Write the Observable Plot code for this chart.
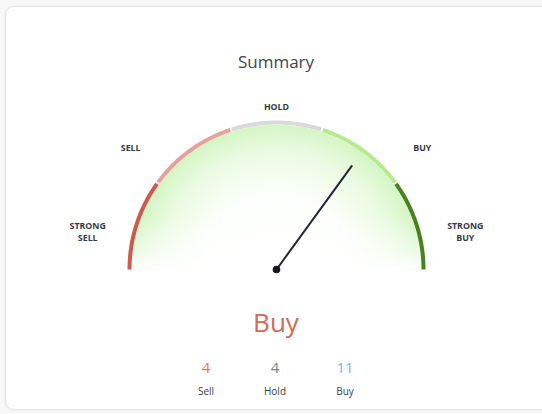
<!DOCTYPE html>
<html><head><meta charset="utf-8">
<script src="https://cdn.jsdelivr.net/npm/d3@7"></script>
<script src="https://cdn.jsdelivr.net/npm/@observablehq/plot@0.6"></script>
<style>
html,body{margin:0;padding:0;width:542px;height:414px;overflow:hidden;background:#f8f8f8;font-family:"Open Sans",sans-serif}
#card{position:absolute;left:5px;top:6px;width:600px;height:402px;background:#fff;border:1px solid #e4e4e4;border-radius:9px;box-shadow:0 0 3px rgba(0,0,0,0.07)}
#title{position:absolute;left:0;top:50px;width:552px;text-align:center;font-size:17px;color:#3f4650}
#gauge{position:absolute;left:0;top:80px}
#verdict{position:absolute;left:0;top:304px;width:552px;text-align:center;font-size:26px;color:#d26a5a}
.num{position:absolute;width:80px;text-align:center;font-size:15px;top:357px}
.lab{position:absolute;width:80px;text-align:center;font-size:10px;top:384px;color:#3a3f46}
</style>
</head><body>
<div id="card"></div>
<div id="title"></div>
<div id="gauge"></div>
<div id="verdict"></div>
<div id="counts"></div>
<script>
// ---- data ----
const title = "Summary";
const segments = ["STRONG\nSELL", "SELL", "HOLD", "BUY", "STRONG\nBUY"];
const score = 0.40;            // needle value on a -1 (strong sell) .. 1 (strong buy) scale
const verdict = "Buy";
const countLabels = ["Sell", "Hold", "Buy"];
const counts = [4, 4, 11];

// ---- styles / layout ----
const segColors = ["#cd5a4c", "#e6a29a", "#d9d9d9", "#b6ea8e", "#45841d"];
const countColors = ["#d9776a", "#7d7f84", "#7ab4e4"];
const countX = [206, 275, 345];
const labelAngles = [168.6, 140, 90, 40, 11.4];
const labelRadii = [1.31, 1.295, 1.11, 1.295, 1.31];

document.getElementById("title").textContent = title;
document.getElementById("verdict").textContent = verdict;
const cdiv = document.getElementById("counts");
counts.forEach((c, i) => {
  const n = document.createElement("div");
  n.className = "num"; n.style.left = (countX[i] - 40) + "px"; n.style.color = countColors[i];
  n.textContent = c; cdiv.appendChild(n);
  const l = document.createElement("div");
  l.className = "lab"; l.style.left = (countX[i] - 40) + "px";
  l.textContent = countLabels[i]; cdiv.appendChild(l);
});

// geometry helpers
const W = 542, H = 220, R = 147, CX = 276, CY = 189;
const toAngle = s => (90 - s * 90) * Math.PI / 180;
const n = segments.length;
const arcPts = [];
segments.forEach((s, i) => {
  const s0 = -1 + 2 * i / n, s1 = -1 + 2 * (i + 1) / n;
  const a0 = toAngle(s0) - (i === 0 ? 0 : 0.006), a1 = toAngle(s1) + (i === n - 1 ? 0 : 0.006);
  for (let k = 0; k <= 40; k++) {
    const a = a0 + (a1 - a0) * k / 40;
    arcPts.push({seg: i, x: Math.cos(a), y: Math.sin(a)});
  }
});
const fillPts = d3.range(0, 181).map(d => ({x: 0.985 * Math.cos(d * Math.PI / 180), y: 0.985 * Math.sin(d * Math.PI / 180)}));
const labels = segments.map((s, i) => ({
  text: s,
  x: labelRadii[i] * Math.cos(labelAngles[i] * Math.PI / 180),
  y: labelRadii[i] * Math.sin(labelAngles[i] * Math.PI / 180)
}));
const na = toAngle(score), nl = 0.876;
const needle = [{x1: 0, y1: 0, x2: nl * Math.cos(na), y2: nl * Math.sin(na)}];

const svg = Plot.plot({
  width: W, height: H, margin: 0, axis: null,
  style: {background: "transparent", overflow: "visible"},
  x: {domain: [-CX / R, (W - CX) / R], range: [0, W]},
  y: {domain: [-(H - CY) / R, CY / R], range: [H, 0]},
  marks: [
    Plot.line(fillPts, {x: "x", y: "y", fill: "url(#gfill)", stroke: "none"}),
    Plot.line(fillPts, {x: "x", y: "y", fill: "url(#gfade)", stroke: "none"}),
    Plot.line(arcPts, {x: "x", y: "y", z: "seg", stroke: d => segColors[d.seg], strokeWidth: 4, strokeLinecap: "butt"}),
    Plot.text(labels, {x: "x", y: "y", text: "text", fontSize: 8.8, fontWeight: "bold", fill: "#363b43", lineHeight: 1.35, fontFamily: "Open Sans"}),
    Plot.link(needle, {x1: "x1", y1: "y1", x2: "x2", y2: "y2", stroke: "#23262b", strokeWidth: 2}),
    Plot.dot([{x: 0, y: 0}], {x: "x", y: "y", r: 3.8, fill: "#15171c", stroke: "none"})
  ]
});
const defs = d3.select(svg).insert("defs", ":first-child");
const g = defs.append("radialGradient").attr("id", "gfill").attr("gradientUnits", "userSpaceOnUse")
  .attr("cx", CX).attr("cy", CY).attr("r", R);
[[0, "#ffffff"], [0.5, "#fdfffc"], [0.8, "#ebfbe3"], [1, "#d3f5c2"]].forEach(([o, c]) =>
  g.append("stop").attr("offset", o).attr("stop-color", c));
const lg = defs.append("linearGradient").attr("id", "gfade").attr("gradientUnits", "userSpaceOnUse")
  .attr("x1", 0).attr("y1", CY).attr("x2", 0).attr("y2", CY - R);
[[0, 0.95], [0.12, 0.55], [0.35, 0]].forEach(([o, a]) =>
  lg.append("stop").attr("offset", o).attr("stop-color", "#ffffff").attr("stop-opacity", a));
document.getElementById("gauge").appendChild(svg);
</script>
</body></html>
